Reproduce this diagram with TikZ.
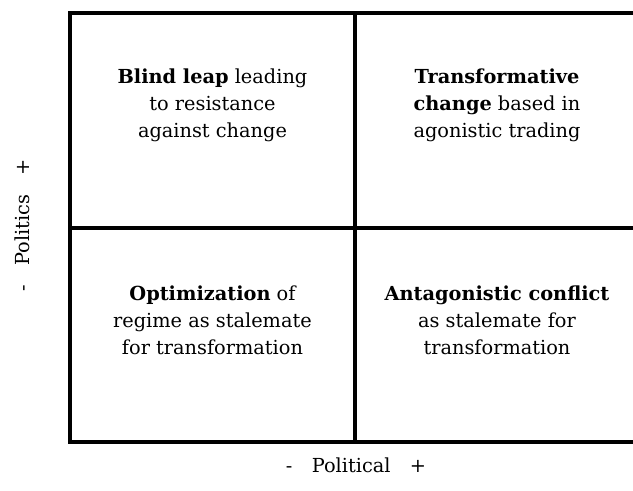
\documentclass[tikz,border=0pt]{standalone}
\usepackage{fontspec}
\setmainfont{DejaVu Serif}
\tikzset{
  quadtext/.style={align=center, font=\fontsize{11}{15.3}\selectfont},
  axislabel/.style={font=\fontsize{11}{15}\selectfont},
}
\begin{document}
\begin{tikzpicture}
  \useasboundingbox (0, 0) rectangle (12.66, 9.82);
  \clip (0, 0) rectangle (12.66, 9.82);
  \draw[line width=2pt] (1.4, 0.98) rectangle (12.72, 9.56);
  \draw[line width=2pt] (7.1, 0.98) -- (7.1, 9.56);
  \draw[line width=2pt] (1.4, 5.26) -- (12.72, 5.26);
  \node[quadtext] (blind) at (4.25, 7.72) {\textbf{Blind leap} leading\\to resistance\\against change};
  \node[quadtext] (transform) at (9.94, 7.72) {\textbf{Transformative}\\\textbf{change} based in\\agonistic trading};
  \node[quadtext] (optim) at (4.25, 3.42) {\textbf{Optimization} of\\regime as stalemate\\for transformation};
  \node[quadtext] (antag) at (9.94, 3.42) {\textbf{Antagonistic conflict}\\as stalemate for\\transformation};
  \node[axislabel, rotate=90] (politics) at (0.44, 5.32) {-\quad Politics\quad +};
  \node[axislabel] (political) at (7.12, 0.52) {-\quad Political\quad +};
\end{tikzpicture}
\end{document}
